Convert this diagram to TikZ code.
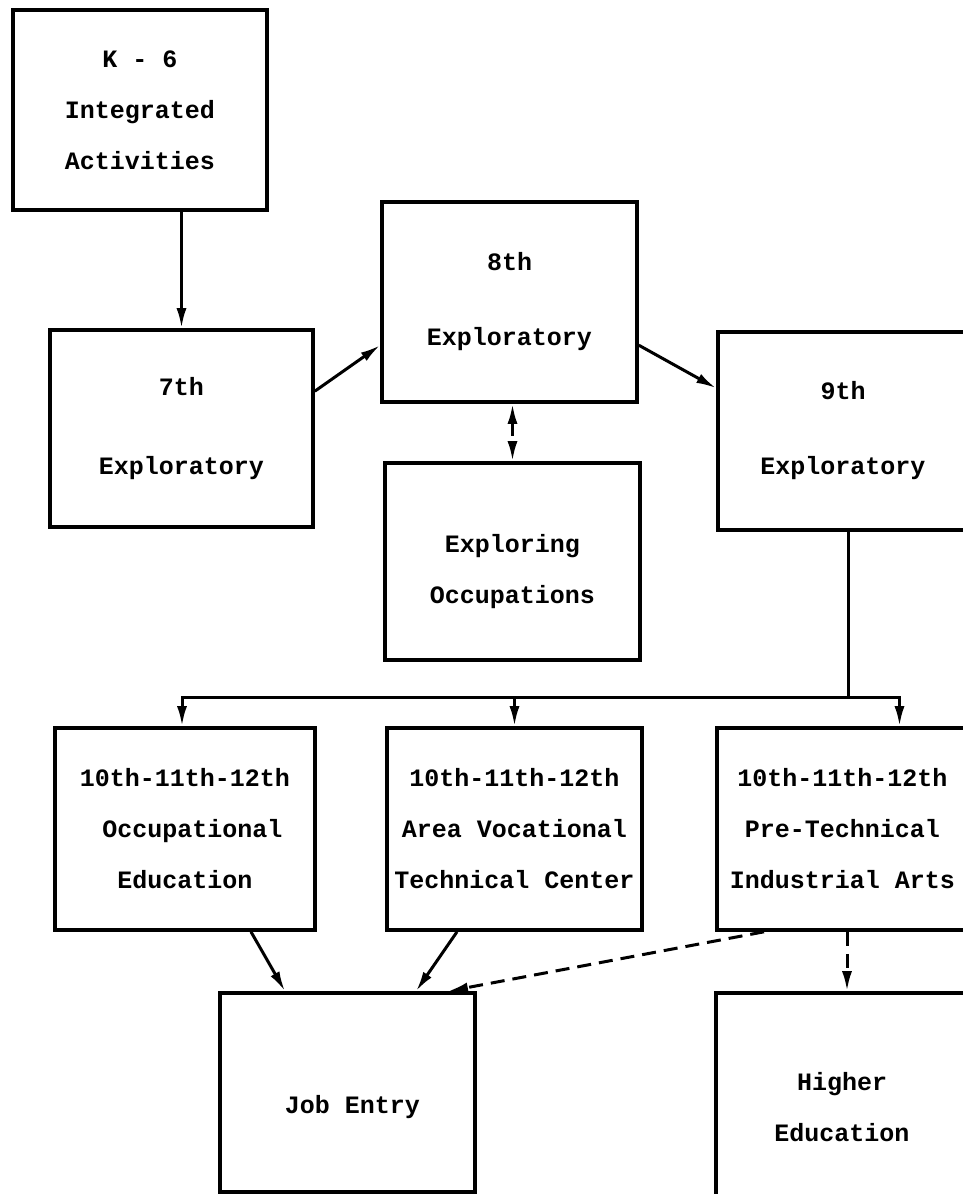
\documentclass[tikz,border=0pt]{standalone}
\usepackage{fontspec}
\setmainfont{Liberation Mono}
\usetikzlibrary{arrows.meta}
\begin{document}
\begin{tikzpicture}[x=1pt,y=-1pt,
  txt/.style={align=center, inner sep=0pt, font=\bfseries\fontsize{25}{51}\selectfont},
  box/.style={txt, draw, line width=3.6pt, rectangle},
  conn/.style={line width=3pt},
  tip/.tip={Latex[length=20pt,width=10pt]},
  arr/.style={conn, -tip},
  dsh/.style={dash pattern=on 14pt off 8pt}]
\useasboundingbox (0,0) rectangle (962,1194);
\fill[white] (0,0) rectangle (962,1194);
% boxes
\node[box, minimum width=254pt, minimum height=200pt] (k6) at (140,110) {K - 6\\Integrated\\Activities};
\node[box, minimum width=263pt, minimum height=197pt] (s7) at (181.5,428.5) {7th\\[28pt]Exploratory};
\node[box, minimum width=255pt, minimum height=200pt] (s8) at (509.5,302) {8th\\[24pt]Exploratory};
\node[box, minimum width=255pt, minimum height=197pt] (exo) at (512.5,561.5) {};
\node[txt] (exot) at ([yshift=-10pt]exo.center) {Exploring\\Occupations};
\node[box, minimum width=250pt, minimum height=198pt] (s9) at (843,431) {9th\\[24pt]Exploratory};
\node[box, minimum width=260pt, minimum height=202pt] (occ) at (185,829) {10th-11th-12th\\\ Occupational\\Education};
\node[box, minimum width=255pt, minimum height=202pt] (avt) at (514.5,829) {10th-11th-12th\\Area Vocational\\Technical Center};
\node[box, minimum width=251pt, minimum height=202pt] (pre) at (842.5,829) {10th-11th-12th\\Pre-Technical\\Industrial Arts};
\node[box, minimum width=255pt, minimum height=199pt] (job) at (347.5,1092.5) {};
\node[txt] (jobt) at ([yshift=-15pt, xshift=5pt]job.center) {Job Entry};
\node[box, minimum width=252pt, minimum height=204pt] (high) at (842,1095) {};
\node[txt] (hight) at ([yshift=-12pt]high.center) {Higher\\Education};
\coordinate (bus) at (848,697);
% connectors
\draw[arr] (k6.south -| s7.north) -- (s7.north);
\draw[arr] ([yshift=-63pt]s7.north east) -- ([yshift=-145pt]s8.north west);
\draw[arr] ([yshift=-145pt]s8.north east) -- ([yshift=-58pt]s9.north west);
\draw[conn, dsh, tip-tip] ([xshift=3pt]s8.south) -- ([xshift=0pt]exo.north);
\draw[conn] (s9.south -| bus) -- (bus);
\draw[arr] (bus) -| ([xshift=-3pt]occ.north);
\draw[arr] (avt.north |- bus) -- (avt.north);
\draw[arr] (bus) -| ([xshift=57pt]pre.north);
\draw[arr] ([xshift=66pt]occ.south) -- ([xshift=-62.5pt]job.north);
\draw[arr] ([xshift=-57.5pt]avt.south) -- ([xshift=68.5pt]job.north);
\draw[arr, dsh] ([xshift=-78.5pt]pre.south) -- ([xshift=100.5pt]job.north);
\draw[arr, dsh] ([xshift=4.5pt]pre.south) -- ([xshift=5pt]high.north);
\end{tikzpicture}
\end{document}
